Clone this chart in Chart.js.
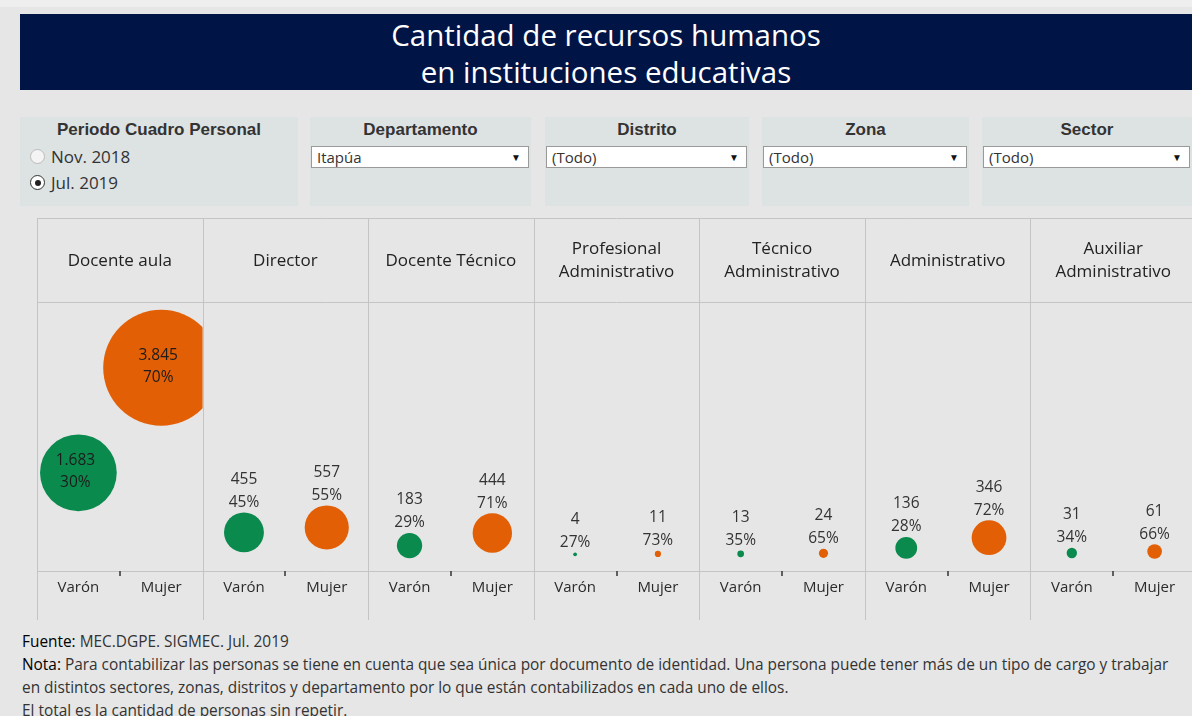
<!DOCTYPE html>
<html lang="es">
<head>
<meta charset="utf-8">
<title>Cantidad de recursos humanos en instituciones educativas</title>
<script src="https://cdn.jsdelivr.net/npm/chart.js@4.4.1/dist/chart.umd.min.js"></script>
<style>
  html, body { margin: 0; padding: 0; }
  body { width: 1192px; height: 716px; overflow: hidden; background: #e6e6e6; position: relative; font-family: "Open Sans", sans-serif; color: #333; }
  .topstrip { position: absolute; left: 0; top: 0; width: 1192px; height: 7px; background: #eeeeee; }
  .title { position: absolute; left: 20px; top: 14px; width: 1172px; height: 76px; background: #011446; color: #fff; text-align: center; font-size: 29.5px; line-height: 37px; padding-top: 2px; box-sizing: border-box; }
  .panel { position: absolute; top: 117px; height: 89px; background: #dde2e3; font-family: "Liberation Sans", Arial, sans-serif; }
  .panel .lbl { text-align: center; font-weight: bold; font-size: 17px; line-height: 19px; margin-top: 3px; color: #333; }
  .dd { position: absolute; top: 29px; left: 1px; right: 2px; height: 22px; background: #fff; border: 1px solid #9a9a9a; box-sizing: border-box; font-family: "Open Sans", sans-serif; font-size: 15px; line-height: 20px; padding-left: 5px; color: #333; }
  .dd::after { content: "\25BC"; position: absolute; right: 7px; top: 0; font-size: 10px; color: #111; }
  .radio { position: absolute; left: 10px; font-family: "Open Sans", sans-serif; font-size: 17px; line-height: 22px; color: #333; }
  .radio i { display: inline-block; width: 13px; height: 13px; border-radius: 50%; border: 1px solid #bbb; background: #f4f4f4; vertical-align: -1px; margin-right: 6px; position: relative; }
  .radio.on i { border-color: #333; background: #fff; }
  .radio.on i::after { content: ""; position: absolute; left: 3.5px; top: 3.5px; width: 6px; height: 6px; border-radius: 50%; background: #222; }
  #wrap { position: absolute; left: 20px; top: 218px; width: 1180px; height: 402px; }
  .notes { position: absolute; left: 22px; top: 630px; font-size: 15.4px; line-height: 23px; color: #333; white-space: nowrap; }
  .notes b { font-weight: normal; color: #000; }
</style>
</head>
<body>
<div class="topstrip"></div>
<div class="title">Cantidad de recursos humanos<br>en instituciones educativas</div>

<div class="panel" style="left:20px; width:278px;">
  <div class="lbl">Periodo Cuadro Personal</div>
  <div class="radio" style="top:29px;"><i></i>Nov. 2018</div>
  <div class="radio on" style="top:55px;"><i></i>Jul. 2019</div>
</div>
<div class="panel" style="left:310px; width:221px;">
  <div class="lbl">Departamento</div>
  <div class="dd">Itapúa</div>
</div>
<div class="panel" style="left:545px; width:204px;">
  <div class="lbl">Distrito</div>
  <div class="dd">(Todo)</div>
</div>
<div class="panel" style="left:762px; width:207px;">
  <div class="lbl">Zona</div>
  <div class="dd">(Todo)</div>
</div>
<div class="panel" style="left:982px; width:210px;">
  <div class="lbl">Sector</div>
  <div class="dd">(Todo)</div>
</div>

<div id="wrap"><canvas id="chart"></canvas></div>

<div class="notes">
  <b>Fuente:</b> MEC.DGPE. SIGMEC. Jul. 2019<br>
  <b>Nota:</b> Para contabilizar las personas se tiene en cuenta que sea única por documento de identidad. Una persona puede tener más de un tipo de cargo y trabajar<br>
  en distintos sectores, zonas, distritos y departamento por lo que están contabilizados en cada uno de ellos.<br>
  El total es la cantidad de personas sin repetir.
</div>

<script>
"use strict";

// chart values
const roles = [
  ["Docente aula"],
  ["Director"],
  ["Docente Técnico"],
  ["Profesional", "Administrativo"],
  ["Técnico", "Administrativo"],
  ["Administrativo"],
  ["Auxiliar", "Administrativo"],
];
const genders = ["Varón", "Mujer"];
const varon = [1683, 455, 183, 4, 13, 136, 31];
const mujer = [3845, 557, 444, 11, 24, 346, 61];
const pctVaron = [30, 45, 29, 27, 35, 28, 34];
const pctMujer = [70, 55, 71, 73, 65, 72, 66];

const GREEN = "#0b8a4e";
const ORANGE = "#e25f06";
const FONT = "'Open Sans', sans-serif";

// bubble area proportional to the count
function bubbleR(v) {
  return 0.935 * Math.sqrt(v);
}

// 3845 -> "3.845"
function fmt(v) {
  return String(v).replace(/\B(?=(\d{3})+(?!\d))/g, ".");
}

var datasets = roles.map(function (r, i) {
  return {
    label: r.join(" "),
    data: [
      { x: i * 2, y: varon[i], r: bubbleR(varon[i]), pct: pctVaron[i] },
      { x: i * 2 + 1, y: mujer[i], r: bubbleR(mujer[i]), pct: pctMujer[i] },
    ],
    backgroundColor: [GREEN, ORANGE],
    hoverBackgroundColor: [GREEN, ORANGE],
    borderWidth: 0,
    hoverBorderWidth: 0,
  };
});

// grid, headers and labels the Tableau way
var tablePlugin = {
  id: "table",
  beforeDatasetsDraw(chart) {
    const { ctx, chartArea: a, scales: { x } } = chart;
    ctx.save();
    ctx.strokeStyle = "#c4c4c4";
    ctx.lineWidth = 1;
    ctx.beginPath();
    for (let c = 0; c <= roles.length; c++) {
      const px = Math.round(x.getPixelForValue(c * 2 - 0.5)) + 0.5;
      ctx.moveTo(px, 0);
      ctx.lineTo(px, chart.height);
    }
    [0, a.top, a.bottom].forEach(function (y) {
      const py = Math.round(y) + 0.5;
      ctx.moveTo(a.left, py);
      ctx.lineTo(a.right, py);
    });
    ctx.stroke();

    // small ticks between Varón and Mujer
    ctx.strokeStyle = "#333";
    ctx.lineWidth = 1.5;
    ctx.beginPath();
    for (let c = 0; c < roles.length; c++) {
      const px = Math.round(x.getPixelForValue(c * 2 + 0.5));
      ctx.moveTo(px, a.bottom);
      ctx.lineTo(px, a.bottom + 5);
    }
    ctx.stroke();

    // column headers
    ctx.fillStyle = "#222";
    ctx.font = "17px " + FONT;
    ctx.textAlign = "center";
    ctx.textBaseline = "middle";
    roles.forEach(function (r, i) {
      const cx = x.getPixelForValue(i * 2 + 0.5);
      const cy = a.top / 2 + 1;
      r.forEach(function (line, k) {
        ctx.fillText(line, cx, cy + (k - (r.length - 1) / 2) * 23);
      });
    });
    ctx.restore();
  },
  // each role pane clips its own bubbles
  beforeDatasetDraw(chart, args) {
    const { ctx, chartArea: a, scales: { x } } = chart;
    const l = x.getPixelForValue(args.index * 2 - 0.5);
    const r = x.getPixelForValue(args.index * 2 + 1.5);
    ctx.save();
    ctx.beginPath();
    ctx.rect(l, a.top, r - l, a.bottom - a.top);
    ctx.clip();
  },
  afterDatasetDraw(chart) {
    chart.ctx.restore();
  },
  afterDatasetsDraw(chart) {
    const ctx = chart.ctx;
    ctx.save();
    ctx.font = "15.5px " + FONT;
    ctx.textAlign = "center";
    ctx.textBaseline = "middle";
    chart.data.datasets.forEach(function (ds, i) {
      const meta = chart.getDatasetMeta(i);
      meta.data.forEach(function (el, j) {
        const d = ds.data[j];
        const t1 = fmt(d.y);
        const t2 = d.pct + "%";
        const rad = el.options.radius;
        if (rad > 30) {
          ctx.fillStyle = "#1c1c1c";
          ctx.fillText(t1, el.x - 3, el.y - 12);
          ctx.fillText(t2, el.x - 3, el.y + 10);
        } else {
          ctx.fillStyle = "#333";
          ctx.fillText(t1, el.x, el.y - rad - 33);
          ctx.fillText(t2, el.x, el.y - rad - 10);
        }
      });
    });
    ctx.restore();
  },
};

var ctx = document.getElementById("chart");

var myChart = new Chart(ctx, {
  type: "bubble",
  data: { datasets: datasets },
  options: {
    responsive: true,
    maintainAspectRatio: false,
    animation: false,
    layout: { autoPadding: false, padding: { left: 17, right: 4, top: 84, bottom: 0 } },
    plugins: {
      legend: { display: false },
      tooltip: { enabled: false },
    },
    scales: {
      x: {
        type: "linear",
        min: -0.5,
        max: roles.length * 2 - 0.5,
        grid: { display: false, drawTicks: false },
        border: { display: false },
        afterBuildTicks: function (scale) {
          scale.ticks = [];
          for (let k = 0; k < roles.length * 2; k++) scale.ticks.push({ value: k });
        },
        afterFit: function (scale) {
          scale.height = 49;
          scale.paddingLeft = 0;
          scale.paddingRight = 0;
        },
        ticks: {
          padding: 8,
          autoSkip: false,
          maxRotation: 0,
          color: "#2b2b2b",
          font: { family: FONT, size: 15 },
          callback: function (v) {
            return genders[v % 2];
          },
        },
      },
      y: {
        display: false,
        min: -340,
        max: 5200,
      },
    },
  },
  plugins: [tablePlugin],
});
</script>
</body>
</html>
